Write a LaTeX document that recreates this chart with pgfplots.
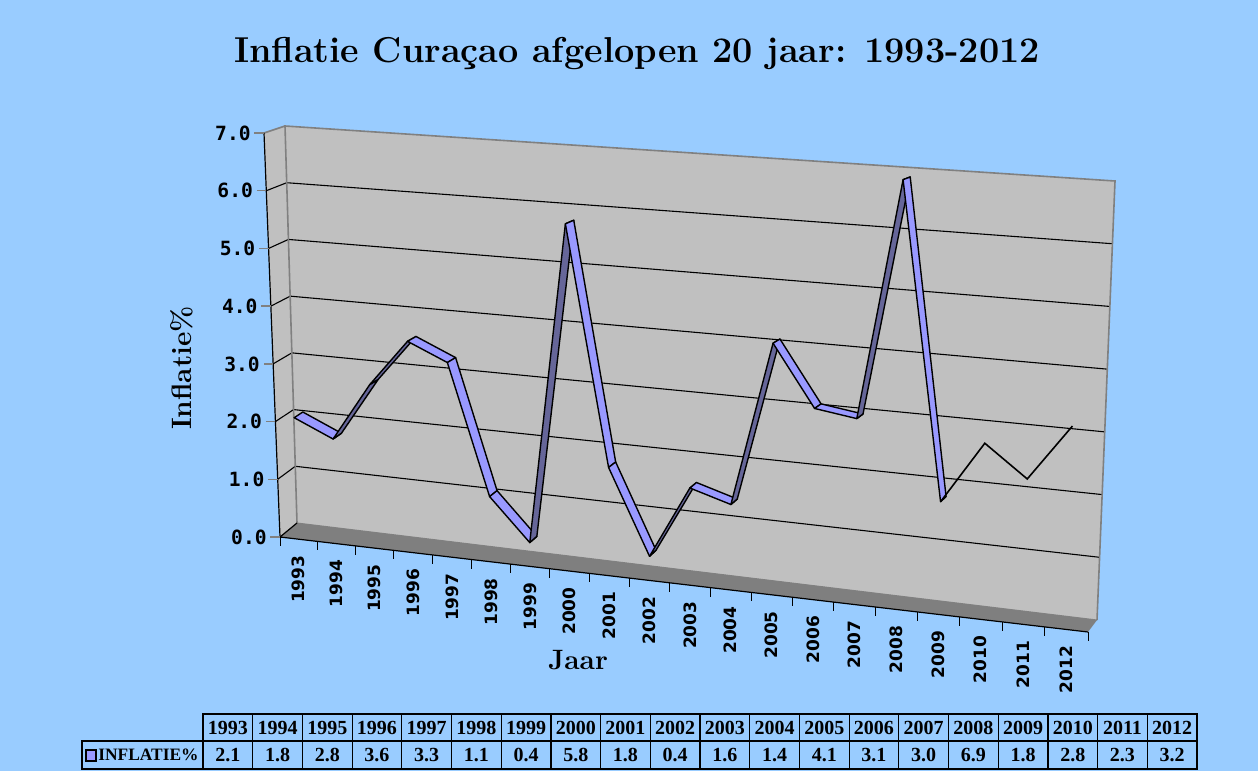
\documentclass[border=0pt]{standalone}
\usepackage{fontspec}
\usepackage{pgfplots}
\usepackage{pgfplotstable}
\pgfplotsset{compat=1.18}
\newfontfamily\monofont{DejaVu Sans Mono}
\newfontfamily\sansfont{DejaVu Sans}
\newfontfamily\tabfont{Liberation Serif}
\definecolor{bgblue}{HTML}{99CCFF}
\definecolor{wallgray}{HTML}{C0C0C0}
\definecolor{floorgray}{HTML}{7F7F7F}
\definecolor{edgegray}{HTML}{808080}
\definecolor{ribbonlight}{HTML}{9999FF}
\definecolor{ribbondark}{HTML}{666699}

% projection of (u in [0,1] along years, t in [0,1] of value/7, z depth 0=back 1=front) to picture pixels
\pgfmathdeclarefunction{px}{3}{\pgfmathparse{(1-(0.93*#1+0.07*#1*#1))*(1-#2)*(297-17*#3)+(0.93*#1+0.07*#1*#1)*(1-#2)*(1097-9*#3)+(1-(0.93*#1+0.07*#1*#1))*(#2)*(285-21*#3)+(0.93*#1+0.07*#1*#1)*(#2)*(1115-13*#3)}}
\pgfmathdeclarefunction{py}{3}{\pgfmathparse{(1-(0.93*#1+0.07*#1*#1))*(1-#2)*(523+14*#3)+(0.93*#1+0.07*#1*#1)*(1-#2)*(620+12*#3)+(1-(0.93*#1+0.07*#1*#1))*(#2)*(126+7*#3)+(0.93*#1+0.07*#1*#1)*(#2)*(181+5*#3)}}

\newcommand\X[1]{\csname X#1\endcsname}
\newcommand\Y[1]{\csname Y#1\endcsname}
\newcommand\Nx[1]{\csname N#1\endcsname}
\newcommand\Cc[1]{\csname C#1\endcsname}
\newcommand\Vv[1]{\csname V#1\endcsname}
\newcommand\Yr[1]{\csname YR#1\endcsname}
\newcommand\Tc[1]{\csname TC#1\endcsname}
\newcommand\Tx[1]{\csname TX#1\endcsname}
\newcommand\proj[4]{%
  \pgfmathsetmacro\tmpx{px(#1,#2,#3)}%
  \pgfmathsetmacro\tmpy{py(#1,#2,#3)}%
  \expandafter\xdef\csname X#4\endcsname{\tmpx}%
  \expandafter\xdef\csname Y#4\endcsname{\tmpy}}

\pgfplotstableread{
year val
1993 2.1
1994 1.8
1995 2.8
1996 3.6
1997 3.3
1998 1.1
1999 0.4
2000 5.8
2001 1.8
2002 0.4
2003 1.6
2004 1.4
2005 4.1
2006 3.1
2007 3.0
2008 6.9
2009 1.8
2010 2.8
2011 2.3
2012 3.2
}\datatable

\begin{document}
\begin{tikzpicture}
% ---------- precomputation ----------
\proj{0}{0}{0}{B00}\proj{1}{0}{0}{B10}\proj{1}{1}{0}{B11}\proj{0}{1}{0}{B01}
\proj{0}{0}{1}{F00}\proj{1}{0}{1}{F10}\proj{0}{1}{1}{F01}
\foreach \k in {0,...,7}{%
  \pgfmathsetmacro\myt{\k/7}%
  \proj{0}{\myt}{0}{GL\k}\proj{1}{\myt}{0}{GR\k}\proj{0}{\myt}{1}{GF\k}}
\foreach \i in {0,...,20}{%
  \pgfmathsetmacro\myu{\i/20}%
  \proj{\myu}{0}{1}{XT\i}%
  \pgfmathsetmacro\tx{203+\i*49.7}\expandafter\xdef\csname TX\i\endcsname{\tx}}
\foreach \i in {0,...,19}{%
  \pgfmathsetmacro\myu{(\i+0.5)/20}%
  \proj{\myu}{0}{1}{XL\i}%
  \pgfmathsetmacro\tc{203+(\i+0.5)*49.7}\expandafter\xdef\csname TC\i\endcsname{\tc}%
  \pgfplotstablegetelem{\i}{val}\of\datatable
  \expandafter\xdef\csname V\i\endcsname{\pgfplotsretval}%
  \pgfplotstablegetelem{\i}{year}\of\datatable
  \expandafter\xdef\csname YR\i\endcsname{\pgfplotsretval}%
  \pgfmathsetmacro\myt{\csname V\i\endcsname/7}%
  \proj{\myu}{\myt}{1}{RF\i}%
  \proj{\myu}{\myt}{0.52}{RB\i}}
\foreach \i in {0,...,18}{%
  \pgfmathtruncatemacro\j{\i+1}%
  \pgfmathtruncatemacro\rise{\csname V\j\endcsname>\csname V\i\endcsname}%
  \ifnum\rise=1 \expandafter\xdef\csname C\i\endcsname{ribbondark}%
  \else\expandafter\xdef\csname C\i\endcsname{ribbonlight}\fi
  \expandafter\xdef\csname N\i\endcsname{\j}}
% ---------- background ----------
\fill[bgblue] (0,0) rectangle (629pt,385.5pt);
\begin{axis}[at={(0,0)}, anchor=south west, x=0.5pt, y=0.5pt, y dir=reverse,
  xmin=0, xmax=1258, ymin=0, ymax=771, hide axis, clip=false, scale only axis]
% back wall
\fill[wallgray] (axis cs:\X{B00},\Y{B00}) -- (axis cs:\X{B10},\Y{B10}) -- (axis cs:\X{B11},\Y{B11}) -- (axis cs:\X{B01},\Y{B01}) -- cycle;
% side wall
\fill[wallgray] (axis cs:\X{B00},\Y{B00}) -- (axis cs:\X{F00},\Y{F00}) -- (axis cs:\X{F01},\Y{F01}) -- (axis cs:\X{B01},\Y{B01}) -- cycle;
% floor
\fill[floorgray] (axis cs:\X{B00},\Y{B00}) -- (axis cs:\X{B10},\Y{B10}) -- (axis cs:\X{F10},\Y{F10}) -- (axis cs:\X{F00},\Y{F00}) -- cycle;
% gridlines
\pgfplotsinvokeforeach{1,...,6}{%
  \draw[black, line width=0.55pt] (axis cs:\X{GF#1},\Y{GF#1}) -- (axis cs:\X{GL#1},\Y{GL#1}) -- (axis cs:\X{GR#1},\Y{GR#1});}
% wall outlines
\draw[edgegray, line width=0.8pt] (axis cs:\X{B00},\Y{B00}) -- (axis cs:\X{B01},\Y{B01}) -- (axis cs:\X{B11},\Y{B11}) -- (axis cs:\X{B10},\Y{B10});
\draw[edgegray, line width=0.8pt] (axis cs:\X{F01},\Y{F01}) -- (axis cs:\X{B01},\Y{B01});
\draw[edgegray, line width=0.5pt] (axis cs:\X{B00},\Y{B00}) -- (axis cs:\X{B10},\Y{B10});
% front edges
\draw[black, line width=0.6pt] (axis cs:\X{F01},\Y{F01}) -- (axis cs:\X{F00},\Y{F00}) -- (axis cs:\X{F10},\Y{F10});
\draw[black, line width=0.6pt] (axis cs:\X{F00},\Y{F00}) -- (axis cs:\X{B00},\Y{B00});
% y ticks and labels
\pgfplotsinvokeforeach{0,...,7}{%
  \draw[edgegray, line width=0.7pt] (axis cs:\X{GF#1},\Y{GF#1}) -- ++(-4.8pt,0);
  \node[anchor=east, inner sep=0pt, font=\monofont\bfseries\fontsize{9.8}{10}\selectfont] at (axis cs:\X{GF#1},\Y{GF#1}) [xshift=-6.5pt] {#1.0};}
% x ticks
\pgfplotsinvokeforeach{0,...,20}{%
  \draw[black, line width=0.5pt] (axis cs:\X{XT#1},\Y{XT#1}) -- ++(0,-4.5pt);}
% x labels
\pgfplotsinvokeforeach{0,...,19}{%
  \node[rotate=90, anchor=east, inner sep=0pt, font=\sansfont\bfseries\fontsize{8.5}{9}\selectfont] at (axis cs:\X{XL#1},\Y{XL#1}) [xshift=-8pt] {\Yr{#1}};}
% data ribbon
\pgfplotsinvokeforeach{0,...,15}{%
  \edef\temp{\noexpand\addplot[draw=black, line width=0.7pt, line join=round, fill=\Cc{#1}] coordinates {(\X{RF#1},\Y{RF#1}) (\X{RF\Nx{#1}},\Y{RF\Nx{#1}}) (\X{RB\Nx{#1}},\Y{RB\Nx{#1}}) (\X{RB#1},\Y{RB#1})} -- cycle;}\temp}
\edef\temp{\noexpand\addplot[black, line width=0.8pt] coordinates {(\X{RF16},\Y{RF16}) (\X{RF17},\Y{RF17}) (\X{RF18},\Y{RF18}) (\X{RF19},\Y{RF19})};}\temp
% titles
\node[font=\bfseries\fontsize{18}{20}\selectfont] at (axis cs:637,54) {Inflatie Curaçao afgelopen 20 jaar: 1993-2012};
\node[rotate=90, font=\bfseries\fontsize{14}{16}\selectfont] at (axis cs:182,368) {Inflatie\%};
\node[font=\bfseries\fontsize{14}{16}\selectfont] at (axis cs:578,660) {Jaar};
% data table
\draw[black, line width=0.6pt] (axis cs:203,714) rectangle (axis cs:1197,769);
\draw[black, line width=0.6pt] (axis cs:82,741) rectangle (axis cs:203,769);
\draw[black, line width=0.6pt] (axis cs:203,741) -- (axis cs:1197,741);
\pgfplotsinvokeforeach{1,...,19}{%
  \draw[black, line width=0.6pt] (axis cs:\Tx{#1},714) -- (axis cs:\Tx{#1},769);}
\pgfplotsinvokeforeach{0,...,19}{%
  \node[font=\tabfont\bfseries\fontsize{10}{11}\selectfont] at (axis cs:\Tc{#1},727.5) {\Yr{#1}};
  \node[font=\tabfont\bfseries\fontsize{10}{11}\selectfont] at (axis cs:\Tc{#1},755) {\Vv{#1}};}
\draw[black, line width=0.6pt, fill=ribbonlight] (axis cs:86,750) rectangle (axis cs:96,761);
\node[anchor=west, inner sep=0pt, font=\tabfont\bfseries\fontsize{8.7}{10}\selectfont] at (axis cs:98,755) {INFLATIE\%};
\end{axis}
\pgfresetboundingbox
\useasboundingbox (0,0) rectangle (629pt,385.5pt);
\end{tikzpicture}
\end{document}
